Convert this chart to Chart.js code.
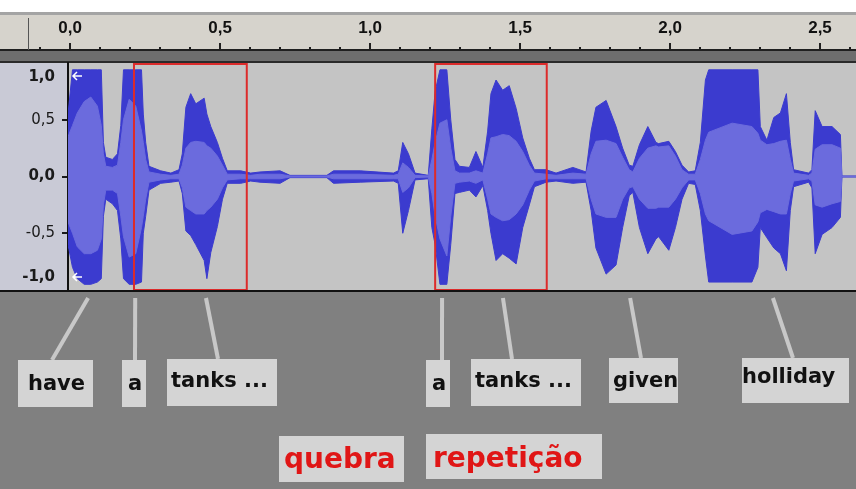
<!DOCTYPE html>
<html>
<head>
<meta charset="utf-8">
<script src="https://cdn.jsdelivr.net/npm/chart.js@4.4.1/dist/chart.umd.min.js"></script>
<style>
  html, body { margin: 0; padding: 0; background: #808080; overflow: hidden; }
  canvas { display: block; }
</style>
</head>
<body>
<canvas id="wave" width="856" height="489"></canvas>
<script>
// time (s) and envelope
const times = [-0.007, 0.008, 0.024, 0.047, 0.069, 0.091, 0.104, 0.111, 0.119, 0.141, 0.158, 0.169, 0.178, 0.197, 0.219, 0.238, 0.244, 0.252, 0.263, 0.302,
  0.336, 0.363, 0.374, 0.386, 0.402, 0.419, 0.447, 0.456, 0.469, 0.491, 0.508, 0.524, 0.569, 0.602, 0.633, 0.700, 0.733, 0.856, 0.878, 0.967,
  1.078, 1.094, 1.109, 1.128, 1.150, 1.194, 1.206, 1.217, 1.233, 1.256, 1.269, 1.283, 1.298, 1.331, 1.353, 1.376, 1.392, 1.403, 1.420, 1.442,
  1.464, 1.487, 1.509, 1.531, 1.548, 1.587, 1.620, 1.676, 1.720, 1.737, 1.753, 1.787, 1.820, 1.842, 1.864, 1.876, 1.898, 1.926, 1.953, 1.962,
  1.996, 2.018, 2.040, 2.062, 2.084, 2.101, 2.118, 2.129, 2.207, 2.273, 2.293, 2.301, 2.323, 2.346, 2.368, 2.388, 2.401, 2.412, 2.462, 2.473,
  2.484, 2.507, 2.540, 2.568, 2.573, 2.620];
const peakHigh = [0.55, 0.94, 0.94, 0.94, 0.94, 0.94, 0.94, 0.30, 0.17, 0.15, 0.20, 0.45, 0.94, 0.94, 0.94, 0.94, 0.55, 0.30, 0.09, 0.05,
  0.03, 0.06, 0.20, 0.61, 0.73, 0.64, 0.69, 0.55, 0.44, 0.30, 0.16, 0.05, 0.05, 0.03, 0.04, 0.05, 0.01, 0.01, 0.05, 0.05,
  0.03, 0.05, 0.30, 0.20, 0.03, 0.01, 0.42, 0.75, 0.94, 0.94, 0.50, 0.15, 0.09, 0.08, 0.22, 0.08, 0.40, 0.73, 0.85, 0.76,
  0.80, 0.60, 0.34, 0.16, 0.06, 0.06, 0.03, 0.08, 0.04, 0.40, 0.61, 0.67, 0.44, 0.25, 0.10, 0.09, 0.28, 0.44, 0.30, 0.29,
  0.31, 0.22, 0.10, 0.04, 0.05, 0.30, 0.85, 0.94, 0.94, 0.94, 0.94, 0.44, 0.32, 0.52, 0.56, 0.73, 0.30, 0.06, 0.03, 0.06,
  0.58, 0.44, 0.44, 0.37, 0.005, 0.005];
const peakLow = [-0.60, -0.80, -0.90, -0.95, -0.95, -0.93, -0.90, -0.35, -0.20, -0.24, -0.30, -0.55, -0.90, -0.95, -0.95, -0.93, -0.50, -0.35, -0.12, -0.06,
  -0.05, -0.04, -0.15, -0.48, -0.52, -0.60, -0.74, -0.90, -0.67, -0.44, -0.20, -0.06, -0.06, -0.04, -0.05, -0.06, -0.01, -0.01, -0.06, -0.05,
  -0.04, -0.06, -0.50, -0.30, -0.03, -0.02, -0.45, -0.60, -0.95, -0.95, -0.60, -0.15, -0.14, -0.12, -0.18, -0.08, -0.30, -0.50, -0.74, -0.68,
  -0.72, -0.77, -0.45, -0.25, -0.09, -0.05, -0.04, -0.06, -0.05, -0.30, -0.63, -0.86, -0.78, -0.45, -0.17, -0.14, -0.45, -0.68, -0.55, -0.53,
  -0.65, -0.45, -0.20, -0.06, -0.07, -0.30, -0.70, -0.93, -0.93, -0.93, -0.80, -0.45, -0.54, -0.63, -0.68, -0.83, -0.30, -0.09, -0.05, -0.10,
  -0.68, -0.51, -0.45, -0.36, -0.005, -0.005];
const rmsHigh = [0.35, 0.45, 0.56, 0.66, 0.70, 0.62, 0.45, 0.20, 0.09, 0.08, 0.10, 0.30, 0.50, 0.68, 0.62, 0.40, 0.30, 0.15, 0.04, 0.02,
  0.01, 0.02, 0.10, 0.25, 0.30, 0.31, 0.30, 0.27, 0.25, 0.18, 0.10, 0.02, 0.02, 0.01, 0.02, 0.02, 0.005, 0.005, 0.02, 0.02,
  0.01, 0.02, 0.12, 0.08, 0.01, 0.005, 0.15, 0.30, 0.47, 0.50, 0.25, 0.05, 0.03, 0.03, 0.05, 0.03, 0.20, 0.34, 0.35, 0.37,
  0.36, 0.31, 0.22, 0.10, 0.03, 0.02, 0.01, 0.03, 0.02, 0.20, 0.31, 0.32, 0.29, 0.17, 0.06, 0.04, 0.16, 0.25, 0.27, 0.26,
  0.27, 0.18, 0.06, 0.02, 0.02, 0.15, 0.32, 0.39, 0.47, 0.44, 0.38, 0.32, 0.28, 0.29, 0.31, 0.32, 0.15, 0.03, 0.01, 0.03,
  0.24, 0.28, 0.28, 0.25, 0, 0];
const rmsLow = [-0.40, -0.50, -0.62, -0.68, -0.68, -0.65, -0.55, -0.25, -0.12, -0.12, -0.15, -0.35, -0.53, -0.71, -0.68, -0.45, -0.35, -0.20, -0.05, -0.03,
  -0.02, -0.02, -0.10, -0.27, -0.30, -0.33, -0.33, -0.30, -0.27, -0.20, -0.10, -0.03, -0.02, -0.02, -0.02, -0.02, -0.005, -0.005, -0.02, -0.02,
  -0.02, -0.02, -0.14, -0.10, -0.01, -0.005, -0.15, -0.35, -0.55, -0.70, -0.35, -0.06, -0.05, -0.04, -0.06, -0.03, -0.20, -0.33, -0.36, -0.39,
  -0.38, -0.33, -0.25, -0.12, -0.04, -0.02, -0.02, -0.02, -0.02, -0.20, -0.33, -0.36, -0.36, -0.20, -0.10, -0.09, -0.20, -0.28, -0.28, -0.27,
  -0.27, -0.20, -0.10, -0.03, -0.03, -0.15, -0.33, -0.39, -0.51, -0.48, -0.40, -0.32, -0.29, -0.31, -0.33, -0.33, -0.15, -0.04, -0.02, -0.04,
  -0.25, -0.27, -0.24, -0.22, 0, 0];

const rulerValues = [0, 0.5, 1, 1.5, 2, 2.5];
const rulerLabels = ['0,0', '0,5', '1,0', '1,5', '2,0', '2,5'];
const ampValues = [1, 0.5, 0, -0.5, -1];
const ampLabels = ['1,0', '0,5', '0,0', '-0,5', '-1,0'];

// red selections (s)
const boxStarts = [0.213, 1.217];
const boxEnds = [0.589, 1.589];

const words = ['have', 'a', 'tanks ...', 'a', 'tanks ...', 'given', 'holliday'];
const wordTimes = [0.06, 0.217, 0.453, 1.24, 1.443, 1.867, 2.343];
const notes = ['quebra', 'repetição'];

// label placement in pixels
const wordBoxes = [
  { x: 18, y: 360, w: 75, h: 47, tx: 28, ty: 390, lx: 52 },
  { x: 122, y: 360, w: 24, h: 47, tx: 128, ty: 390, lx: 135 },
  { x: 167, y: 359, w: 110, h: 47, tx: 171, ty: 387, lx: 218 },
  { x: 426, y: 360, w: 24, h: 47, tx: 432, ty: 390, lx: 442 },
  { x: 471, y: 359, w: 110, h: 47, tx: 475, ty: 387, lx: 512 },
  { x: 609, y: 358, w: 69, h: 45, tx: 613, ty: 387, lx: 641 },
  { x: 742, y: 358, w: 107, h: 45, tx: 742, ty: 383, lx: 793 }
];
const noteBoxes = [
  { x: 279, y: 436, w: 125, h: 46, tx: 284, ty: 468 },
  { x: 426, y: 434, w: 176, h: 45, tx: 433, ty: 467 }
];

const dark = '#3b3bcf';
const light = '#6b6bdd';

const pts = (vals) => times.map((t, i) => ({ x: t, y: vals[i] }));

const backdrop = {
  id: 'backdrop',
  beforeDraw(chart) {
    const ctx = chart.ctx;
    const area = chart.chartArea;
    const W = chart.width;
    const x = chart.scales.x;
    const y = chart.scales.y;
    ctx.save();
    // page
    ctx.fillStyle = '#808080';
    ctx.fillRect(0, 0, W, chart.height);
    ctx.fillStyle = '#ffffff';
    ctx.fillRect(0, 0, W, 12);
    // ruler
    ctx.fillStyle = '#a4a4a4';
    ctx.fillRect(0, 12, W, 3);
    ctx.fillStyle = '#d6d3cc';
    ctx.fillRect(0, 15, W, 35);
    ctx.fillStyle = '#202020';
    ctx.fillRect(0, 49, W, 2);
    ctx.fillStyle = '#6e6e6e';
    ctx.fillRect(0, 51, W, 10);
    ctx.fillStyle = '#2a2a2a';
    ctx.fillRect(0, 61, W, 2);
    ctx.fillStyle = '#555555';
    ctx.fillRect(28, 18, 1, 32);
    ctx.fillStyle = '#202020';
    for (let k = -1; k <= 26; k++) {
      const px = Math.round(x.getPixelForValue(k / 10));
      if (px < 32 || px > W - 1) continue;
      const len = k % 5 === 0 ? 7 : 3;
      ctx.fillRect(px - 1, 50 - len, 2, len);
    }
    ctx.font = 'bold 17px "Liberation Sans", Arial, sans-serif';
    ctx.textAlign = 'center';
    ctx.textBaseline = 'alphabetic';
    ctx.fillStyle = '#111111';
    rulerValues.forEach((v, i) => {
      ctx.fillText(rulerLabels[i], x.getPixelForValue(v), 33);
    });
    // track panel
    ctx.fillStyle = '#c9cad6';
    ctx.fillRect(0, area.top, area.left, area.bottom - area.top);
    ctx.fillStyle = '#c4c4c4';
    ctx.fillRect(area.left, area.top, area.right - area.left, area.bottom - area.top);
    ctx.fillStyle = '#111111';
    ctx.fillRect(area.left - 1, area.top - 1, 2, area.bottom - area.top + 2);
    ctx.textAlign = 'right';
    ctx.textBaseline = 'middle';
    ampValues.forEach((v, i) => {
      let py = y.getPixelForValue(v);
      const edge = Math.abs(v) === 1;
      if (v === 1) py += 14;
      if (v === -1) py -= 13;
      ctx.font = (edge || v === 0 ? 'bold ' : '') + '15px "DejaVu Sans", sans-serif';
      ctx.fillStyle = '#1a1a1a';
      ctx.fillText(ampLabels[i], 55, py);
      if (!edge) ctx.fillRect(area.left - 6, Math.round(py) - 1, 5, 2);
    });
    ctx.restore();
  }
};

const overlay = {
  id: 'overlay',
  afterDraw(chart) {
    const ctx = chart.ctx;
    const area = chart.chartArea;
    const x = chart.scales.x;
    ctx.save();
    // envelope handle arrows
    ctx.strokeStyle = '#ffffff';
    ctx.lineWidth = 1.5;
    [area.top + 13, area.bottom - 13].forEach((ay) => {
      ctx.beginPath();
      ctx.moveTo(area.left + 14, ay);
      ctx.lineTo(area.left + 5, ay);
      ctx.moveTo(area.left + 9, ay - 4);
      ctx.lineTo(area.left + 5, ay);
      ctx.lineTo(area.left + 9, ay + 4);
      ctx.stroke();
    });
    // selections
    ctx.strokeStyle = '#dc2b2b';
    ctx.lineWidth = 2;
    boxStarts.forEach((s, i) => {
      const x0 = x.getPixelForValue(s);
      const x1 = x.getPixelForValue(boxEnds[i]);
      ctx.strokeRect(x0, area.top + 1, x1 - x0, area.bottom - area.top - 1);
    });
    // track bottom edge
    ctx.fillStyle = '#111111';
    ctx.fillRect(0, area.bottom, chart.width, 2);
    // connectors
    ctx.strokeStyle = '#c8c8c8';
    ctx.lineWidth = 4;
    words.forEach((w, i) => {
      const b = wordBoxes[i];
      ctx.beginPath();
      ctx.moveTo(x.getPixelForValue(wordTimes[i]), area.bottom + 8);
      ctx.lineTo(b.lx, b.y);
      ctx.stroke();
    });
    // word labels
    ctx.textAlign = 'left';
    ctx.textBaseline = 'alphabetic';
    ctx.font = 'bold 21px "DejaVu Sans", sans-serif';
    words.forEach((w, i) => {
      const b = wordBoxes[i];
      ctx.fillStyle = '#d4d4d4';
      ctx.fillRect(b.x, b.y, b.w, b.h);
      ctx.save();
      ctx.beginPath();
      ctx.rect(b.x, b.y, b.w, b.h);
      ctx.clip();
      ctx.fillStyle = '#111111';
      ctx.fillText(w, b.tx, b.ty);
      ctx.restore();
    });
    ctx.font = 'bold 28px "DejaVu Sans", sans-serif';
    notes.forEach((n, i) => {
      const b = noteBoxes[i];
      ctx.fillStyle = '#d4d4d4';
      ctx.fillRect(b.x, b.y, b.w, b.h);
      ctx.fillStyle = '#e01616';
      ctx.fillText(n, b.tx, b.ty);
    });
    ctx.restore();
  }
};

new Chart(document.getElementById('wave').getContext('2d'), {
  type: 'line',
  data: {
    datasets: [
      { label: 'rms +', data: pts(rmsHigh), fill: '+1', backgroundColor: light, borderColor: light, borderWidth: 1, pointRadius: 0 },
      { label: 'rms -', data: pts(rmsLow), fill: false, borderColor: light, borderWidth: 1, pointRadius: 0 },
      { label: 'peak +', data: pts(peakHigh), fill: '+1', backgroundColor: dark, borderColor: dark, borderWidth: 1, pointRadius: 0 },
      { label: 'peak -', data: pts(peakLow), fill: false, borderColor: dark, borderWidth: 1, pointRadius: 0 }
    ]
  },
  options: {
    responsive: false,
    animation: false,
    devicePixelRatio: 1,
    layout: { padding: { left: 68, top: 63, right: 0, bottom: 199 } },
    scales: {
      x: { type: 'linear', min: -0.007, max: 2.62, display: false },
      y: { min: -1, max: 1, display: false }
    },
    elements: { line: { tension: 0 } },
    plugins: { legend: { display: false }, tooltip: { enabled: false } }
  },
  plugins: [backdrop, overlay]
});
</script>
</body>
</html>
